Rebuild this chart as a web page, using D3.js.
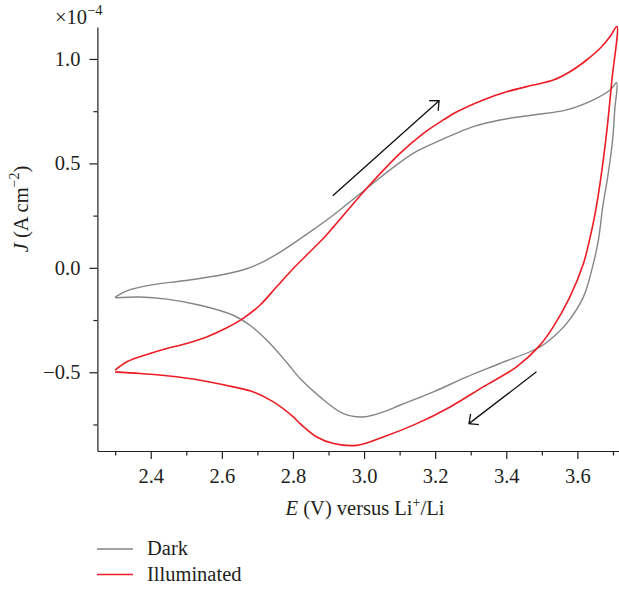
<!DOCTYPE html>
<html>
<head>
<meta charset="utf-8">
<script src="https://cdn.jsdelivr.net/npm/d3@7"></script>
<style>
  body { margin: 0; background: #fff; }
  text { font-family: "Liberation Serif", "Times New Roman", serif; fill: #231f20; }
</style>
</head>
<body>
<div id="chart"></div>
<script>
// Cyclic voltammograms: E in V versus Li+/Li, J in units of 1e-4 A cm^-2
// (forward scan from 2.3 V up to 3.71 V, then back down)
const darkE = [2.300, 2.333, 2.398, 2.492, 2.586, 2.651, 2.707, 2.773, 2.848, 2.914,
  3.007, 3.101, 3.150, 3.195, 3.307, 3.382, 3.476, 3.570, 3.645, 3.692, 3.710,
  3.705, 3.699, 3.686, 3.672, 3.659, 3.645, 3.617, 3.570, 3.532, 3.495,
  3.382, 3.289, 3.195, 3.101, 3.054, 2.998, 2.942, 2.876, 2.820, 2.782,
  2.726, 2.679, 2.632, 2.539, 2.445, 2.370, 2.300];
const darkJ = [-0.140, -0.110, -0.083, -0.062, -0.038, -0.014, 0.021, 0.085, 0.172, 0.253,
  0.380, 0.505, 0.560, 0.596, 0.676, 0.708, 0.732, 0.756, 0.804, 0.851, 0.886,
  0.756, 0.612, 0.444, 0.300, 0.133, 0.021, -0.139, -0.266, -0.331, -0.379,
  -0.458, -0.522, -0.594, -0.658, -0.690, -0.714, -0.698, -0.618, -0.530, -0.452,
  -0.346, -0.275, -0.227, -0.179, -0.150, -0.140, -0.144];

const illumE = [2.300, 2.333, 2.398, 2.445, 2.501, 2.557, 2.614, 2.660, 2.707, 2.754,
  2.801, 2.848, 2.881, 2.914, 3.007, 3.101, 3.167, 3.223, 3.261, 3.335,
  3.401, 3.476, 3.532, 3.579, 3.626, 3.664, 3.692, 3.711,
  3.697, 3.683, 3.665, 3.649, 3.634, 3.617, 3.579, 3.532, 3.495, 3.429,
  3.335, 3.242, 3.148, 3.054, 2.979, 2.914, 2.867, 2.820, 2.801, 2.745,
  2.689, 2.632, 2.539, 2.445, 2.370, 2.300];
const illumJ = [-0.490, -0.450, -0.410, -0.386, -0.362, -0.331, -0.287, -0.242, -0.179, -0.091,
  -0.003, 0.077, 0.133, 0.196, 0.380, 0.548, 0.644, 0.708, 0.747, 0.804,
  0.843, 0.875, 0.899, 0.939, 0.995, 1.051, 1.107, 1.155,
  0.899, 0.659, 0.420, 0.252, 0.133, 0.021, -0.139, -0.283, -0.370, -0.474,
  -0.570, -0.666, -0.746, -0.810, -0.850, -0.841, -0.810, -0.746, -0.714, -0.642,
  -0.594, -0.570, -0.538, -0.517, -0.506, -0.498];

const seriesNames = ["Dark", "Illuminated"];
const seriesColors = ["#858585", "#ed1c24"];

const xMajorTicks = [2.4, 2.6, 2.8, 3.0, 3.2, 3.4, 3.6];
const xMinorTicks = [2.3, 2.5, 2.7, 2.9, 3.1, 3.3, 3.5, 3.7];
const yMajorTicks = [-0.5, 0.0, 0.5, 1.0];
const yMinorTicks = [-0.75, -0.25, 0.25, 0.75];

// scan direction arrows, [E start, J start, E end, J end]
const arrows = [
  [2.912, 0.345, 3.211, 0.800],
  [3.485, -0.498, 3.295, -0.746]
];

const width = 619;
const height = 590;
const margin = { top: 27, right: 0, bottom: 139, left: 97.4 };
const fontSize = 20.5;

const svg = d3.select("#chart")
  .append("svg")
  .attr("width", width)
  .attr("height", height)
  .attr("viewBox", [0, 0, width, height]);

const x = d3.scaleLinear()
  .domain([2.25, 3.717])
  .range([margin.left, width - margin.right]);

const y = d3.scaleLinear()
  .domain([-0.877, 1.153])
  .range([height - margin.bottom, margin.top]);

const fmt = d3.format(".1f");

function xAxis(g) {
  g.attr("transform", `translate(0,${y.range()[0]})`)
    .call(d3.axisBottom(x).tickValues(xMajorTicks).tickFormat(fmt)
      .tickSize(8).tickPadding(9).tickSizeOuter(0))
    .attr("font-size", fontSize)
    .attr("color", "#231f20");
  g.selectAll("path, line").attr("stroke-width", 1.2);
}

function xMinor(g) {
  g.attr("transform", `translate(0,${y.range()[0]})`)
    .call(d3.axisBottom(x).tickValues(xMinorTicks).tickFormat("")
      .tickSize(4.5).tickSizeOuter(0))
    .attr("color", "#231f20");
  g.select(".domain").remove();
  g.selectAll("line").attr("stroke-width", 1.2);
}

function yAxis(g) {
  g.attr("transform", `translate(${margin.left},0)`)
    .call(d3.axisLeft(y).tickValues(yMajorTicks).tickFormat(fmt)
      .tickSize(8).tickPadding(9).tickSizeOuter(0))
    .attr("font-size", fontSize)
    .attr("color", "#231f20");
  g.selectAll("path, line").attr("stroke-width", 1.2);
}

function yMinor(g) {
  g.attr("transform", `translate(${margin.left},0)`)
    .call(d3.axisLeft(y).tickValues(yMinorTicks).tickFormat("")
      .tickSize(4).tickSizeOuter(0))
    .attr("color", "#231f20");
  g.select(".domain").remove();
  g.selectAll("line").attr("stroke-width", 1.2);
}

function exponentLabel(g) {
  const t = g.append("text")
    .attr("x", 55)
    .attr("y", 24)
    .attr("font-size", 20.5);
  t.append("tspan").text("×10");
  t.append("tspan").attr("font-size", 14.5).attr("dy", -9).text("−4");
}

function xAxisLabel(g) {
  const t = g.append("text")
    .attr("x", 365)
    .attr("y", 515)
    .attr("text-anchor", "middle")
    .attr("font-size", fontSize);
  t.append("tspan").attr("font-style", "italic").text("E");
  t.append("tspan").text(" (V) versus Li");
  t.append("tspan").attr("font-size", 14).attr("dy", -8).text("+");
  t.append("tspan").attr("dy", 8).text("/Li");
}

function yAxisLabel(g) {
  const t = g.append("text")
    .attr("transform", "translate(28,209) rotate(-90)")
    .attr("text-anchor", "middle")
    .attr("font-size", fontSize);
  t.append("tspan").attr("font-style", "italic").text("J");
  t.append("tspan").text(" (A cm");
  t.append("tspan").attr("font-size", 14).attr("dy", -9).text("−2");
  t.append("tspan").attr("dy", 9).text(")");
}

const line = d3.line()
  .x(d => x(d[0]))
  .y(d => y(d[1]))
  .curve(d3.curveCatmullRom.alpha(0.5));

const series = [
  d3.zip(darkE, darkJ),
  d3.zip(illumE, illumJ)
];

function curves(g) {
  g.selectAll("path")
    .data(series)
    .join("path")
    .attr("fill", "none")
    .attr("stroke", (d, i) => seriesColors[i])
    .attr("stroke-width", (d, i) => i === 1 ? 1.6 : 1.4)
    .attr("stroke-linejoin", "round")
    .attr("d", line);
}

// open V arrowheads drawn as a single path per arrow
function scanArrows(g) {
  const head = 10, spread = Math.PI / 4.2;
  g.selectAll("path")
    .data(arrows)
    .join("path")
    .attr("fill", "none")
    .attr("stroke", "#111")
    .attr("stroke-width", 1.3)
    .attr("d", d => {
      const x0 = x(d[0]), y0 = y(d[1]), x1 = x(d[2]), y1 = y(d[3]);
      const a = Math.atan2(y0 - y1, x0 - x1);
      const p1 = [x1 + head * Math.cos(a + spread), y1 + head * Math.sin(a + spread)];
      const p2 = [x1 + head * Math.cos(a - spread), y1 + head * Math.sin(a - spread)];
      return `M${x0},${y0}L${x1},${y1}M${p1[0]},${p1[1]}L${x1},${y1}L${p2[0]},${p2[1]}`;
    });
}

function legend(g) {
  const item = g.selectAll("g")
    .data(seriesNames)
    .join("g")
    .attr("transform", (d, i) => `translate(97,${549 + i * 25.5})`);
  item.append("line")
    .attr("x1", 0).attr("x2", 36)
    .attr("stroke", (d, i) => seriesColors[i])
    .attr("stroke-width", 1.4);
  item.append("text")
    .attr("x", 50)
    .attr("y", 6)
    .attr("font-size", fontSize)
    .text(d => d);
}

svg.append("g").call(curves);
svg.append("g").call(xMinor);
svg.append("g").call(yMinor);
svg.append("g").call(xAxis);
svg.append("g").call(yAxis);
svg.append("g").call(exponentLabel);
svg.append("g").call(xAxisLabel);
svg.append("g").call(yAxisLabel);
svg.append("g").call(scanArrows);
svg.append("g").call(legend);
</script>
</body>
</html>
